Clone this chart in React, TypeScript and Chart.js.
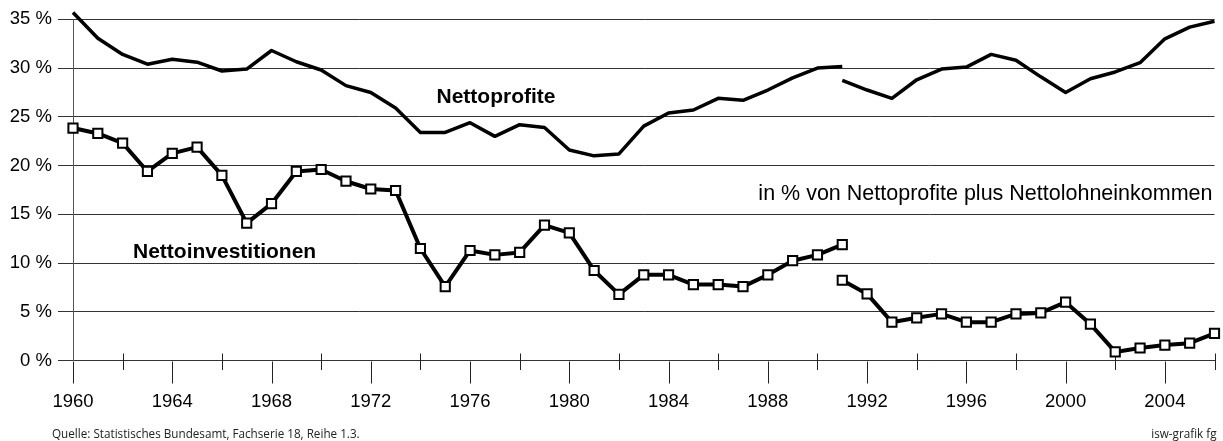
import React, { useEffect, useRef } from "react";
import { Chart, registerables } from "chart.js";

Chart.register(...registerables);

// ---------- data ----------
const yearsWest = [
  1960, 1961, 1962, 1963, 1964, 1965, 1966, 1967, 1968, 1969, 1970, 1971, 1972, 1973, 1974, 1975,
  1976, 1977, 1978, 1979, 1980, 1981, 1982, 1983, 1984, 1985, 1986, 1987, 1988, 1989, 1990, 1991,
];
const yearsUnified = [
  1991, 1992, 1993, 1994, 1995, 1996, 1997, 1998, 1999, 2000, 2001, 2002, 2003, 2004, 2005, 2006,
];

const profitWest = [
  35.7, 33.05, 31.4, 30.4, 30.9, 30.6, 29.7, 29.9, 31.8, 30.65, 29.8, 28.2, 27.5, 25.9, 23.4, 23.4,
  24.4, 23.0, 24.2, 23.9, 21.6, 21.0, 21.2, 24.05, 25.4, 25.7, 26.9, 26.7, 27.75, 29.0, 30.0, 30.15,
];
const profitUnified = [
  28.75, 27.75, 26.9, 28.8, 29.9, 30.1, 31.4, 30.8, 29.1, 27.5, 28.9, 29.6, 30.55, 33.0, 34.2, 34.8,
];

const investWest = [
  23.85, 23.3, 22.3, 19.4, 21.25, 21.9, 19.0, 14.1, 16.1, 19.4, 19.6, 18.4, 17.6, 17.45, 11.5, 7.6,
  11.3, 10.85, 11.1, 13.9, 13.1, 9.25, 6.8, 8.8, 8.8, 7.8, 7.8, 7.6, 8.8, 10.25, 10.85, 11.9,
];
const investUnified = [
  8.25, 6.85, 3.95, 4.4, 4.8, 3.95, 3.95, 4.8, 4.9, 6.0, 3.75, 0.9, 1.3, 1.6, 1.8, 2.8,
];

const xTickYears = [1960, 1964, 1968, 1972, 1976, 1980, 1984, 1988, 1992, 1996, 2000, 2004];
const xMinorYears = [1962, 1966, 1970, 1974, 1978, 1982, 1986, 1990, 1994, 1998, 2002, 2006];
const yTickValues = [0, 5, 10, 15, 20, 25, 30, 35];

const labelProfit = "Nettoprofite";
const labelInvest = "Nettoinvestitionen";
const labelNote = "in % von Nettoprofite plus Nettolohneinkommen";
const labelSource = "Quelle: Statistisches Bundesamt, Fachserie 18, Reihe 1.3.";
const labelCredit = "isw-grafik fg";

const FONT = "'Liberation Sans', Arial, Helvetica, sans-serif";

const toPoints = (xs: number[], ys: number[]) => xs.map((x, i) => ({ x, y: ys[i] }));

const tickPlugin = {
  id: "customXTicks",
  beforeDatasetsDraw(chart: any) {
    const { ctx, chartArea } = chart;
    const xs = chart.scales.x;
    const bottom = Math.round(chartArea.bottom) + 0.5;
    ctx.save();
    ctx.strokeStyle = "#222";
    ctx.lineWidth = 1;
    ctx.beginPath();
    xTickYears.forEach((yr) => {
      const px = Math.round(xs.getPixelForValue(yr)) + 0.5;
      ctx.moveTo(px, bottom);
      ctx.lineTo(px, bottom + 22);
    });
    xMinorYears.forEach((yr) => {
      const px = Math.round(xs.getPixelForValue(yr)) + 0.5;
      ctx.moveTo(px, bottom - 8);
      ctx.lineTo(px, bottom + 8.5);
    });
    ctx.stroke();
    ctx.restore();
  },
  afterDraw(chart: any) {
    const { ctx } = chart;
    ctx.save();
    ctx.fillStyle = "#000";
    ctx.textBaseline = "alphabetic";
    ctx.font = `bold 21px ${FONT}`;
    ctx.textAlign = "left";
    ctx.fillText(labelProfit, 436.5, 103.3);
    ctx.fillText(labelInvest, 133, 258);
    ctx.font = `21.5px ${FONT}`;
    ctx.textAlign = "right";
    ctx.fillText(labelNote, 1212.5, 200);
    ctx.font = `11.7px 'Open Sans', ${FONT}`;
    ctx.fillStyle = "#222";
    ctx.textAlign = "left";
    ctx.fillText(labelSource, 52, 438);
    ctx.textAlign = "right";
    ctx.fillText(labelCredit, 1216.5, 438);
    ctx.restore();
  },
};

export default function App() {
  const canvasRef = useRef<HTMLCanvasElement | null>(null);

  useEffect(() => {
    document.body.style.margin = "0";
    const canvas = canvasRef.current;
    if (!canvas) return;

    const lineBase = {
      borderColor: "#000",
      fill: false,
      tension: 0,
      clip: false as any,
      borderJoinStyle: "round" as const,
    };

    const chart = new Chart(canvas, {
      type: "line",
      data: {
        datasets: [
          {
            ...lineBase,
            label: "Nettoprofite West",
            data: toPoints(yearsWest, profitWest),
            borderWidth: 3.5,
            pointRadius: 0,
          },
          {
            ...lineBase,
            label: "Nettoprofite",
            data: toPoints(yearsUnified, profitUnified),
            borderWidth: 3.5,
            pointRadius: 0,
          },
          {
            ...lineBase,
            label: "Nettoinvestitionen West",
            data: toPoints(yearsWest, investWest),
            borderWidth: 4,
            pointStyle: "rect",
            pointRadius: 6.5,
            pointBackgroundColor: "#fff",
            pointBorderColor: "#000",
            pointBorderWidth: 2,
          },
          {
            ...lineBase,
            label: "Nettoinvestitionen",
            data: toPoints(yearsUnified, investUnified),
            borderWidth: 4,
            pointStyle: "rect",
            pointRadius: 6.5,
            pointBackgroundColor: "#fff",
            pointBorderColor: "#000",
            pointBorderWidth: 2,
          },
        ],
      },
      options: {
        responsive: false,
        animation: false,
        devicePixelRatio: 1,
        layout: { padding: { top: 19.3, right: 8, bottom: 0, left: 0 } },
        plugins: {
          legend: { display: false },
          tooltip: { enabled: false },
          title: { display: false },
        },
        scales: {
          x: {
            type: "linear",
            min: 1960,
            max: 2006,
            afterFit: (scale: any) => {
              scale.height = 80.3;
            },
            afterBuildTicks: (scale: any) => {
              scale.ticks = xTickYears.map((v) => ({ value: v }));
            },
            ticks: {
              includeBounds: false,
              autoSkip: false,
              maxRotation: 0,
              padding: 29.7,
              color: "#000",
              font: { family: FONT, size: 18.5 },
              callback: (v: any) => String(v),
            },
            grid: { display: false, drawTicks: false },
            border: { display: true, color: "#333", width: 1 },
          },
          y: {
            type: "linear",
            min: 0,
            max: 35,
            afterFit: (scale: any) => {
              scale.width = 73;
            },
            afterBuildTicks: (scale: any) => {
              scale.ticks = yTickValues.map((v) => ({ value: v }));
            },
            ticks: {
              padding: 6,
              color: "#000",
              font: { family: FONT, size: 18.5 },
              callback: (v: any) => `${v} %`,
            },
            grid: {
              color: "#333",
              lineWidth: 1,
              tickLength: 15,
              tickColor: "#333",
            },
            border: { display: true, color: "#555", width: 1 },
          },
        },
      },
      plugins: [tickPlugin],
    });

    return () => chart.destroy();
  }, []);

  return (
    <div style={{ width: 1223, height: 441, background: "#fff" }}>
      <canvas ref={canvasRef} width={1223} height={441} style={{ display: "block" }} />
    </div>
  );
}
